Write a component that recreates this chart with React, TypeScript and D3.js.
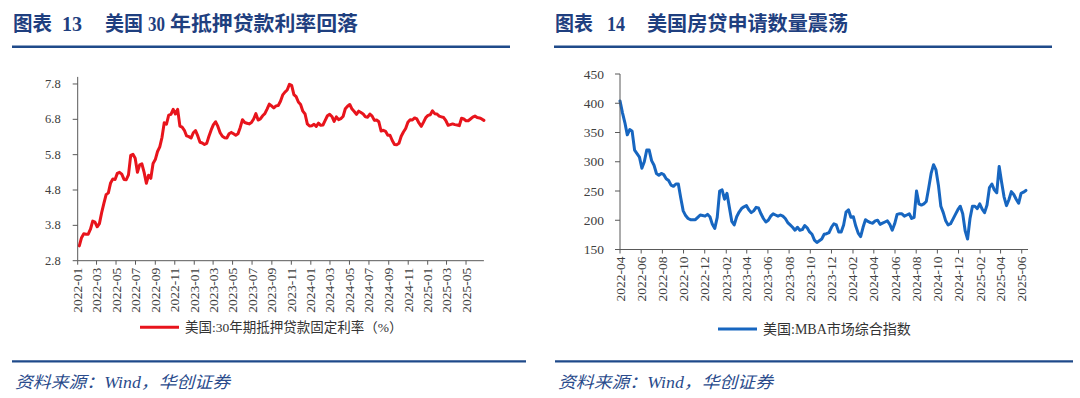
import React from "react";
import * as d3 from "d3";

// ---------- Data ----------
const rateStart = "2022-01-06"; // weekly (Thursday) observations
const rateValues: number[] = [
  3.22, 3.45, 3.56, 3.55, 3.55, 3.69, 3.92, 3.89, 3.76, 3.85,
  4.16, 4.42, 4.67, 4.72, 5.0, 5.11, 5.1, 5.27, 5.3, 5.25,
  5.1, 5.09, 5.23, 5.78, 5.81, 5.7, 5.3, 5.51, 5.54, 5.3,
  4.99, 5.22, 5.13, 5.55, 5.66, 5.89, 6.02, 6.29, 6.7, 6.66,
  6.92, 6.94, 7.08, 6.95, 7.08, 6.61, 6.58, 6.49, 6.33, 6.31,
  6.27, 6.42,
  6.48, 6.33, 6.15, 6.13, 6.09, 6.12, 6.32, 6.5, 6.65, 6.73,
  6.6, 6.42, 6.32, 6.28, 6.27, 6.39, 6.43, 6.39, 6.35, 6.39,
  6.57, 6.79, 6.71, 6.69, 6.67, 6.71, 6.81, 6.96, 6.78, 6.81,
  6.9, 6.96, 7.09, 7.23, 7.18, 7.12, 7.18, 7.19, 7.31, 7.49,
  7.57, 7.63, 7.79, 7.76, 7.5, 7.44, 7.29, 7.22, 7.03, 6.95,
  6.67, 6.61,
  6.62, 6.66, 6.6, 6.69, 6.63, 6.64, 6.77, 6.9, 6.94, 6.88,
  6.74, 6.87, 6.79, 6.82, 6.88, 7.1, 7.17, 7.22, 7.09, 7.02,
  6.94, 7.03, 6.99, 6.95, 6.87, 6.86, 6.95, 6.89, 6.77, 6.78,
  6.73, 6.47, 6.49, 6.46, 6.35, 6.35, 6.2, 6.09, 6.08, 6.12,
  6.32, 6.44, 6.54, 6.72, 6.79, 6.78, 6.84, 6.81, 6.69, 6.6,
  6.72, 6.85,
  6.91, 6.93, 7.04, 6.96, 6.95, 6.89, 6.87, 6.85, 6.76, 6.63,
  6.65, 6.67, 6.65, 6.64, 6.62, 6.83, 6.81, 6.76, 6.76, 6.81,
  6.86, 6.89, 6.85, 6.84, 6.81, 6.77,
];
const rateTicksY = [2.8, 3.8, 4.8, 5.8, 6.8, 7.8];
const rateTickLabelsX = [
  "2022-01", "2022-03", "2022-05", "2022-07", "2022-09", "2022-11",
  "2023-01", "2023-03", "2023-05", "2023-07", "2023-09", "2023-11",
  "2024-01", "2024-03", "2024-05", "2024-07", "2024-09", "2024-11",
  "2025-01", "2025-03", "2025-05",
];
const rateLegend = "美国:30年期抵押贷款固定利率（%）";

const mbaStart = "2022-04-01"; // weekly observations
const mbaValues: number[] = [
  404, 384, 367, 346, 355, 352, 320, 314, 308, 289,
  300, 320, 320, 302, 294, 280, 277, 280, 278, 271,
  268, 260, 258, 262, 262, 238, 216, 208, 203, 201,
  201, 201, 205, 209, 208, 207, 210, 206, 193, 186,
  205, 250, 252, 236, 246, 222, 198, 192, 206, 214,
  220, 223, 225, 218, 213, 216, 222, 221, 211, 203,
  197, 200, 207, 211, 209, 207, 209, 207, 203, 196,
  192, 188, 183, 188, 183, 184, 191, 187, 180, 176,
  166, 162, 165, 168, 176, 177, 179, 188, 194, 192,
  180, 180, 192, 214, 218, 205, 206, 190, 178, 172,
  188, 201, 198, 196, 195, 199, 200, 193, 195, 197,
  199, 193, 183, 194, 210, 211, 211, 207, 209, 211,
  203, 205, 250, 228, 226, 228, 232, 255, 280, 295,
  286, 260, 224, 213, 199, 192, 194, 202, 210, 218,
  224, 211, 182, 168, 203, 224, 224, 220, 228, 219,
  213, 226, 256, 262, 252, 247, 292, 265, 240, 225,
  235, 249, 244, 236, 229, 246, 248, 251,
];
const mbaTicksY = [150, 200, 250, 300, 350, 400, 450];
const mbaTickLabelsX = [
  "2022-04", "2022-06", "2022-08", "2022-10", "2022-12",
  "2023-02", "2023-04", "2023-06", "2023-08", "2023-10", "2023-12",
  "2024-02", "2024-04", "2024-06", "2024-08", "2024-10", "2024-12",
  "2025-02", "2025-04", "2025-06",
];
const mbaLegend = "美国:MBA市场综合指数";

const sourceText = "资料来源：Wind，华创证券";

// ---------- helpers ----------
const parse = d3.timeParse("%Y-%m-%d");
const parseMonth = d3.timeParse("%Y-%m");
function weekly(start: string, values: number[]) {
  const s = parse(start) as Date;
  return values.map((v, i) => ({ date: d3.timeDay.offset(s, 7 * i), value: v }));
}

const SERIF = "'Liberation Serif', 'Times New Roman', 'Noto Sans CJK SC', serif";
const NAVY = "#1f3f7f";
const AXIS = "#595959";
const LABEL = "#404040";

type PanelProps = {
  data: { date: Date; value: number }[];
  xDomain: [Date, Date];
  xRange: [number, number];
  yDomain: [number, number];
  yRange: [number, number];
  yTicks: number[];
  yFmt: (v: number) => string;
  yFont: number;
  yLabelGap: number;
  xLabels: string[];
  color: string;
  legend: string;
  legendX: number;
  legendY: number;
  legendFont: number;
};

function Panel(p: PanelProps) {
  const x = d3.scaleTime().domain(p.xDomain).range(p.xRange);
  const y = d3.scaleLinear().domain(p.yDomain).range(p.yRange);
  const line = d3
    .line<{ date: Date; value: number }>()
    .x((d) => x(d.date))
    .y((d) => y(d.value))
    .curve(d3.curveLinear);
  const x0 = p.xRange[0];
  const axisY = p.yRange[0];
  return (
    <g>
      <path d={line(p.data) || ""} fill="none" stroke={p.color} strokeWidth={3} strokeLinejoin="round" strokeLinecap="round" />
      {/* y axis */}
      <line x1={x0} x2={x0} y1={p.yRange[1]} y2={axisY} stroke={AXIS} strokeWidth={1} />
      {p.yTicks.map((t) => (
        <g key={t}>
          <line x1={x0 - 5} x2={x0} y1={y(t)} y2={y(t)} stroke={AXIS} strokeWidth={1} />
          <text x={x0 - p.yLabelGap} y={y(t)} textAnchor="end" dominantBaseline="central" fontFamily={SERIF} fontSize={p.yFont} fill={LABEL}>
            {p.yFmt(t)}
          </text>
        </g>
      ))}
      {/* x axis */}
      <line x1={x0} x2={p.xRange[1]} y1={axisY} y2={axisY} stroke={AXIS} strokeWidth={1} />
      {p.xLabels.map((lab) => {
        const xx = x(parseMonth(lab) as Date);
        return (
          <g key={lab}>
            <line x1={xx} x2={xx} y1={axisY} y2={axisY + 4} stroke={AXIS} strokeWidth={1} />
            <text
              transform={`translate(${xx},${axisY + 7}) rotate(-90)`}
              textAnchor="end"
              dominantBaseline="central"
              fontFamily={SERIF}
              fontSize={13.5}
              fill={LABEL}
            >
              {lab}
            </text>
          </g>
        );
      })}
      {/* legend */}
      <line x1={p.legendX} x2={p.legendX + 39} y1={p.legendY} y2={p.legendY} stroke={p.color} strokeWidth={3} />
      <text x={p.legendX + 45} y={p.legendY} dominantBaseline="central" fontFamily={SERIF} fontSize={p.legendFont} fill="#333">
        {p.legend}
      </text>
    </g>
  );
}

function Title(props: { parts: { t: string; x: number; w?: number }[]; lineX1: number; lineX2: number }) {
  return (
    <g>
      {props.parts.map((pt, i) => (
        <text
          key={i}
          x={pt.x}
          y={24}
          dominantBaseline="central"
          fontFamily={SERIF}
          fontWeight="bold"
          fontSize={20}
          fill={NAVY}
          textLength={pt.w}
          lengthAdjust={pt.w ? "spacingAndGlyphs" : undefined}
        >
          {pt.t}
        </text>
      ))}
      <line x1={props.lineX1} x2={props.lineX2} y1={46.7} y2={46.7} stroke="#1f4a8a" strokeWidth={2.5} />
    </g>
  );
}

function Footer(props: { x: number; lineX1: number; lineX2: number }) {
  return (
    <g>
      <line x1={props.lineX1} x2={props.lineX2} y1={361.3} y2={361.3} stroke="#1f4a8a" strokeWidth={2.3} />
      <text
        x={props.x}
        y={382}
        dominantBaseline="central"
        fontFamily={SERIF}
        fontStyle="italic"
        fontSize={16.5}
        fill="#2a4b8c"
        textLength={215}
        lengthAdjust="spacingAndGlyphs"
      >
        {sourceText}
      </text>
    </g>
  );
}

export default function App() {
  const rateData = weekly(rateStart, rateValues);
  const mbaData = weekly(mbaStart, mbaValues);
  return (
    <div style={{ position: "absolute", left: 0, top: 0, width: 1080, height: 398, background: "#fff" }}>
      <svg width={1080} height={398} viewBox="0 0 1080 398" style={{ display: "block" }}>
        <rect width={1080} height={398} fill="#fff" />
        <Title
          parts={[
            { t: "图表", x: 13, w: 39 },
            { t: "13", x: 62, w: 20 },
            { t: "美国", x: 105, w: 38 },
            { t: "30", x: 148, w: 17 },
            { t: "年抵押贷款利率回落", x: 170, w: 188 },
          ]}
          lineX1={12}
          lineX2={510}
        />
        <Title
          parts={[
            { t: "图表", x: 555, w: 38 },
            { t: "14", x: 607, w: 18 },
            { t: "美国房贷申请数量震荡", x: 647, w: 201 },
          ]}
          lineX1={554}
          lineX2={1052}
        />
        <Panel
          data={rateData}
          xDomain={[parse("2022-01-01") as Date, parse("2025-06-26") as Date]}
          xRange={[77.7, 483.9]}
          yDomain={[2.8, 8.0]}
          yRange={[260.7, 76.9]}
          yTicks={rateTicksY}
          yFmt={(v) => d3.format(".1f")(v)}
          yFont={12.5}
          yLabelGap={17}
          xLabels={rateTickLabelsX}
          color="#e8141c"
          legend={rateLegend}
          legendX={140}
          legendY={327.3}
          legendFont={13.5}
        />
        <Panel
          data={mbaData}
          xDomain={[parse("2022-04-01") as Date, parse("2025-06-19") as Date]}
          xRange={[620, 1028]}
          yDomain={[150, 450]}
          yRange={[249.5, 74]}
          yTicks={mbaTicksY}
          yFmt={(v) => String(v)}
          yFont={13.5}
          yLabelGap={16}
          xLabels={mbaTickLabelsX}
          color="#1766c0"
          legend={mbaLegend}
          legendX={718}
          legendY={329}
          legendFont={14}
        />
        <Footer x={15} lineX1={12} lineX2={526} />
        <Footer x={558} lineX1={555} lineX2={1073} />
      </svg>
    </div>
  );
}
